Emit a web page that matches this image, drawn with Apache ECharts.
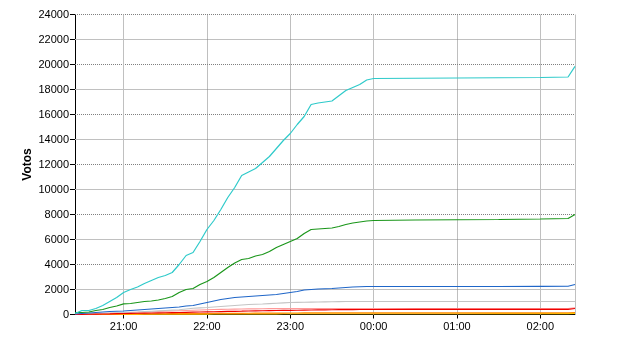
<!DOCTYPE html>
<html>
<head>
<meta charset="utf-8">
<script src="https://cdn.jsdelivr.net/npm/echarts@6/dist/echarts.min.js"></script>
<style>html,body{margin:0;padding:0;background:#fff;}#c{width:640px;height:350px;}</style>
</head>
<body>
<div id="c"></div>
<script>
const times = ['20:25','20:30','20:35','20:40','20:45','20:50','20:55','21:00','21:05','21:10','21:15','21:20','21:25','21:30','21:35','21:40','21:45','21:50','21:55','22:00','22:05','22:10','22:15','22:20','22:25','22:30','22:35','22:40','22:45','22:50','22:55','23:00','23:05','23:10','23:15','23:20','23:25','23:30','23:35','23:40','23:45','23:50','23:55','00:00','00:30','01:00','01:30','02:00','02:20','02:25'];
const cyanVals = [80,320,320,480,720,1040,1360,1760,2000,2200,2480,2720,2960,3120,3360,4000,4720,4960,5840,6800,7520,8400,9360,10160,11120,11400,11680,12160,12640,13280,13920,14480,15200,15840,16800,16920,17000,17080,17500,17920,18160,18400,18760,18880,18900,18920,18940,18960,19000,19850];
const greenVals = [160,160,200,320,400,560,680,850,880,960,1040,1080,1160,1280,1440,1760,2000,2080,2400,2640,2960,3360,3760,4120,4400,4480,4680,4800,5040,5360,5600,5840,6080,6480,6800,6840,6880,6920,7040,7200,7320,7400,7480,7520,7560,7580,7600,7640,7680,8000];
const blueVals = [40,80,120,160,200,240,260,280,320,360,400,440,480,520,560,600,680,720,840,960,1080,1200,1280,1360,1400,1440,1480,1520,1560,1600,1680,1760,1840,1960,2000,2040,2060,2080,2120,2160,2200,2220,2240,2240,2240,2240,2240,2250,2260,2400];
const grayVals = [0,40,60,80,100,120,140,160,180,200,230,260,290,320,350,380,440,500,530,560,600,640,680,720,760,800,820,840,870,900,930,960,970,980,990,1000,1010,1020,1030,1040,1040,1040,1040,1040,1040,1040,1040,1040,1040,1040];
const salmonVals = [0,20,40,60,80,100,120,140,160,180,200,220,240,260,280,300,320,340,360,380,400,410,420,430,440,450,455,460,465,470,475,480,480,480,480,480,480,480,480,480,480,480,480,480,480,480,480,480,480,540];
const redVals = [0,10,20,30,40,50,65,80,90,100,110,120,130,140,150,160,175,190,200,210,220,235,245,255,265,280,290,300,310,320,325,330,340,350,360,370,375,380,385,390,395,400,400,400,405,410,410,410,415,480];
const orangeVals = [0,5,10,15,20,25,30,35,40,45,50,55,60,62,65,68,70,73,76,80,83,86,90,93,96,100,103,106,110,113,116,120,122,124,126,128,130,130,130,130,130,130,130,130,132,134,136,138,140,160];
const yellowVals = [0,2,4,6,8,10,12,14,16,18,20,22,24,26,28,30,32,34,36,38,40,42,44,46,48,50,52,54,56,58,60,60,60,60,60,60,60,60,60,60,60,60,60,60,60,62,64,66,68,80];
const xTickLabels = ['21:00','22:00','23:00','00:00','01:00','02:00'];
const xSolidGrid = ['21:00','00:00','02:00','02:25'];
const xDottedGrid = ['22:00','23:00','01:00'];
const ySolidGrid = [2000,6000,10000,14000,18000,22000];
const yDottedGrid = [4000,8000,12000,16000,20000,24000];

function toMin(s){const p=s.split(':').map(Number);let h=p[0];if(h<12)h+=24;return h*60+p[1]-1200;}
const xs = times.map(toMin);
const tickMins = xTickLabels.map(toMin);
function pairs(vals){return vals.map((v,i)=>[xs[i],v]);}
const FONT='Liberation Sans, Arial, sans-serif';
const gridLines = [];
ySolidGrid.forEach(v=>gridLines.push({yAxis:v,lineStyle:{color:'#c0c0c0',type:'solid',width:1}}));
yDottedGrid.forEach(v=>gridLines.push({yAxis:v,lineStyle:{color:'#808080',type:'dotted',width:1}}));
xSolidGrid.forEach(s=>gridLines.push({xAxis:toMin(s),lineStyle:{color:'#c0c0c0',type:'solid',width:1}}));
xDottedGrid.forEach(s=>gridLines.push({xAxis:toMin(s),lineStyle:{color:'#808080',type:'dotted',width:1}}));

function mkSeries(vals,color,extra){
  return Object.assign({type:'line',data:pairs(vals),symbol:'none',showSymbol:false,lineStyle:{color:color,width:1.2},itemStyle:{color:color},z:2},extra||{});
}
const chart = echarts.init(document.getElementById('c'),null,{renderer:'canvas'});
chart.setOption({
  animation:false,
  backgroundColor:'#fff',
  grid:{left:75,right:65,top:14.5,bottom:35.5,containLabel:false},
  xAxis:{type:'value',min:toMin('20:25'),max:toMin('02:25'),
    axisLine:{show:true,onZero:false,lineStyle:{color:'#000',width:1}},
    axisTick:{show:true,customValues:tickMins,length:4,lineStyle:{color:'#000'}},
    axisLabel:{show:true,customValues:tickMins,margin:7,fontSize:11,fontFamily:FONT,color:'#000',
      formatter:function(v){const i=tickMins.indexOf(v);return i>=0?xTickLabels[i]:'';}},
    splitLine:{show:false}},
  yAxis:{type:'value',min:0,max:24000,interval:2000,
    name:'Votos',nameLocation:'middle',nameGap:41,nameRotate:90,nameMoveOverlap:false,
    nameTextStyle:{fontWeight:'bold',fontSize:12,fontFamily:FONT,color:'#000'},
    axisLine:{show:true,lineStyle:{color:'#000',width:1}},
    axisTick:{show:true,length:5,lineStyle:{color:'#000'}},
    axisLabel:{fontSize:11,fontFamily:FONT,color:'#000',margin:6,formatter:function(v){return String(v);}},
    splitLine:{show:false}},
  visualMap:[{show:false,type:'piecewise',seriesIndex:3,dimension:0,
    pieces:[{lt:toMin('00:40'),color:'#c4c4c4'},{gte:toMin('00:40'),lt:toMin('02:20'),color:'#f2f2f2'},{gte:toMin('02:20'),color:'#c4c4c4'}]}],
  series:[
    mkSeries(yellowVals,'#ffcc00',{markLine:{silent:true,z:1,symbol:'none',label:{show:false},animation:false,data:gridLines}}),
    mkSeries(orangeVals,'#ff8800'),
    mkSeries(salmonVals,'#ff9999'),
    mkSeries(grayVals,'#c4c4c4'),
    mkSeries(redVals,'#ee0000'),
    mkSeries(blueVals,'#1f66c8'),
    mkSeries(greenVals,'#1a961a'),
    mkSeries(cyanVals,'#2ecaca')
  ]
});
</script>
</body>
</html>
